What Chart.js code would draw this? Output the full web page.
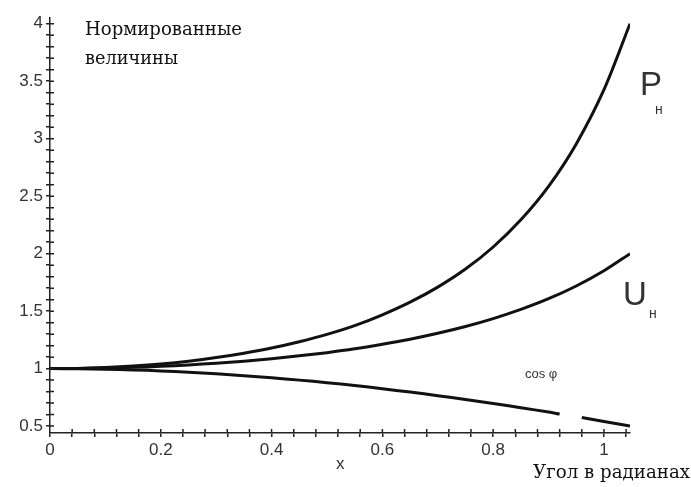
<!DOCTYPE html>
<html>
<head>
<meta charset="utf-8">
<script src="https://cdn.jsdelivr.net/npm/chart.js@4"></script>
<style>
  body { margin: 0; background: #fff; }
  #wrap { width: 691px; height: 487px; }
</style>
</head>
<body>
<div id="wrap"><canvas id="chart1" width="691" height="487"></canvas></div>
<script>
/************* data ********* */
const xValues = [0, 0.05, 0.1, 0.15, 0.2, 0.25, 0.3, 0.35, 0.4, 0.45, 0.5, 0.55, 0.6, 0.65, 0.7, 0.75, 0.8, 0.85, 0.9, 0.95, 1.0, 1.047];
const pValues = [1, 1.002, 1.01, 1.023, 1.041, 1.065, 1.096, 1.134, 1.179, 1.234, 1.298, 1.374, 1.468, 1.578, 1.709, 1.866, 2.058, 2.295, 2.586, 2.955, 3.426, 4.0];
const uValues = [1, 1.001, 1.005, 1.011, 1.02, 1.032, 1.047, 1.065, 1.086, 1.111, 1.139, 1.172, 1.212, 1.256, 1.307, 1.366, 1.435, 1.515, 1.608, 1.719, 1.851, 2.0];
// cos curve has a break between ~0.92 and ~0.96
const cosX = [0, 0.05, 0.1, 0.15, 0.2, 0.25, 0.3, 0.35, 0.4, 0.45, 0.5, 0.55, 0.6, 0.65, 0.7, 0.75, 0.8, 0.85, 0.9, 0.92, 0.94, 0.96, 1.0, 1.047];
const cosValues = [1, 0.999, 0.995, 0.989, 0.98, 0.969, 0.955, 0.939, 0.921, 0.9, 0.878, 0.853, 0.825, 0.796, 0.765, 0.732, 0.697, 0.66, 0.622, 0.605, null, 0.574, 0.54, 0.5];
const yTickLabels = [0.5, 1, 1.5, 2, 2.5, 3, 3.5, 4];
const xTickLabels = [0, 0.2, 0.4, 0.6, 0.8, 1];

const toPoints = (xs, ys) => xs.map((x, i) => ({x: x, y: ys[i]}));
const isLabel = (list, v) => list.some(t => Math.abs(t - v) < 1e-6);
const axisColor = '#222';
const tickFont = { family: '"Liberation Sans", Arial, sans-serif', size: 17 };

// draw text stretched to a given width
function fitText(ctx, txt, x, y, w) {
    const m = ctx.measureText(txt).width;
    ctx.save();
    ctx.translate(x, y);
    ctx.scale(w / m, 1);
    ctx.fillText(txt, 0, 0);
    ctx.restore();
}

/************* ticks that cross the axis + free texts ********* */
const extras = {
    id: 'extras',
    afterDatasetsDraw(chart) {
        const ctx = chart.ctx;
        const a = chart.chartArea;
        const xs = chart.scales.x, ys = chart.scales.y;
        ctx.save();
        ctx.strokeStyle = axisColor;
        ctx.lineWidth = 1.5;
        ctx.beginPath();
        xs.ticks.forEach(t => {
            const px = xs.getPixelForValue(t.value);
            if (px <= a.left + 1) return;
            ctx.moveTo(px, a.bottom);
            ctx.lineTo(px, a.bottom - 4);
        });
        ys.ticks.forEach(t => {
            const py = ys.getPixelForValue(t.value);
            ctx.moveTo(a.left, py);
            ctx.lineTo(a.left + 4, py);
        });
        ctx.stroke();

        ctx.fillStyle = '#111';
        ctx.textBaseline = 'middle';
        ctx.textAlign = 'left';
        ctx.font = '18px "DejaVu Serif", serif';
        fitText(ctx, 'Нормированные', 85, 30, 157);
        fitText(ctx, 'величины', 85, 59, 93);
        fitText(ctx, 'Угол в радианах', 533, 473, 157);

        ctx.fillStyle = '#333';
        ctx.font = '17px "Liberation Sans", Arial, sans-serif';
        ctx.fillText('x', 336, 464);

        ctx.font = '33px "DejaVu Sans ExtraLight", "Liberation Sans", sans-serif';
        ctx.fillText('P', 640, 86);
        ctx.fillText('U', 623, 296);
        ctx.font = '14px "Liberation Sans", Arial, sans-serif';
        ctx.fillText('н', 655, 110);
        ctx.fillText('н', 649, 314);
        ctx.font = '13px "Liberation Sans", Arial, sans-serif';
        ctx.fillText('cos φ', 525, 374);
        ctx.restore();
    }
};

function draw() {
    new Chart("chart1", {
        type: "line",
        data: {
            datasets: [
                { data: toPoints(xValues, pValues) },
                { data: toPoints(xValues, uValues) },
                { data: toPoints(cosX, cosValues) }
            ]
        },
        options: {
            responsive: false,
            animation: false,
            spanGaps: false,
            layout: { padding: { left: 0, right: 61, top: 18, bottom: 0 } },
            elements: {
                line: { borderColor: '#111', borderWidth: 3, tension: 0.3, fill: false },
                point: { radius: 0 }
            },
            plugins: {
                legend: { display: false },
                tooltip: { enabled: false }
            },
            scales: {
                x: {
                    type: 'linear',
                    min: 0,
                    max: 1.047,
                    afterFit(s) { s.height = 54; },
                    border: { display: true, color: axisColor, width: 1.5 },
                    grid: { drawOnChartArea: false, drawTicks: true, tickLength: 4, color: axisColor, lineWidth: 1.5 },
                    ticks: {
                        stepSize: 0.04,
                        includeBounds: false,
                        autoSkip: false,
                        maxRotation: 0,
                        padding: 3,
                        color: '#333',
                        font: tickFont,
                        callback: v => isLabel(xTickLabels, v) ? String(Math.round(v * 10) / 10) : ''
                    }
                },
                y: {
                    min: 0.44,
                    max: 4.05,
                    afterFit(s) { s.width = 50; },
                    border: { display: true, color: axisColor, width: 1.5 },
                    grid: { drawOnChartArea: false, drawTicks: true, tickLength: 4, color: axisColor, lineWidth: 1.5 },
                    ticks: {
                        stepSize: 0.1,
                        includeBounds: false,
                        autoSkip: false,
                        padding: 3,
                        color: '#333',
                        font: tickFont,
                        callback: v => isLabel(yTickLabels, v) ? String(Math.round(v * 10) / 10) : ''
                    }
                }
            }
        },
        plugins: [extras]
    });
}

Promise.all([
    document.fonts.load('17px "Liberation Sans"'),
    document.fonts.load('18px "DejaVu Serif"')
]).then(draw, draw);
</script>
</body>
</html>
